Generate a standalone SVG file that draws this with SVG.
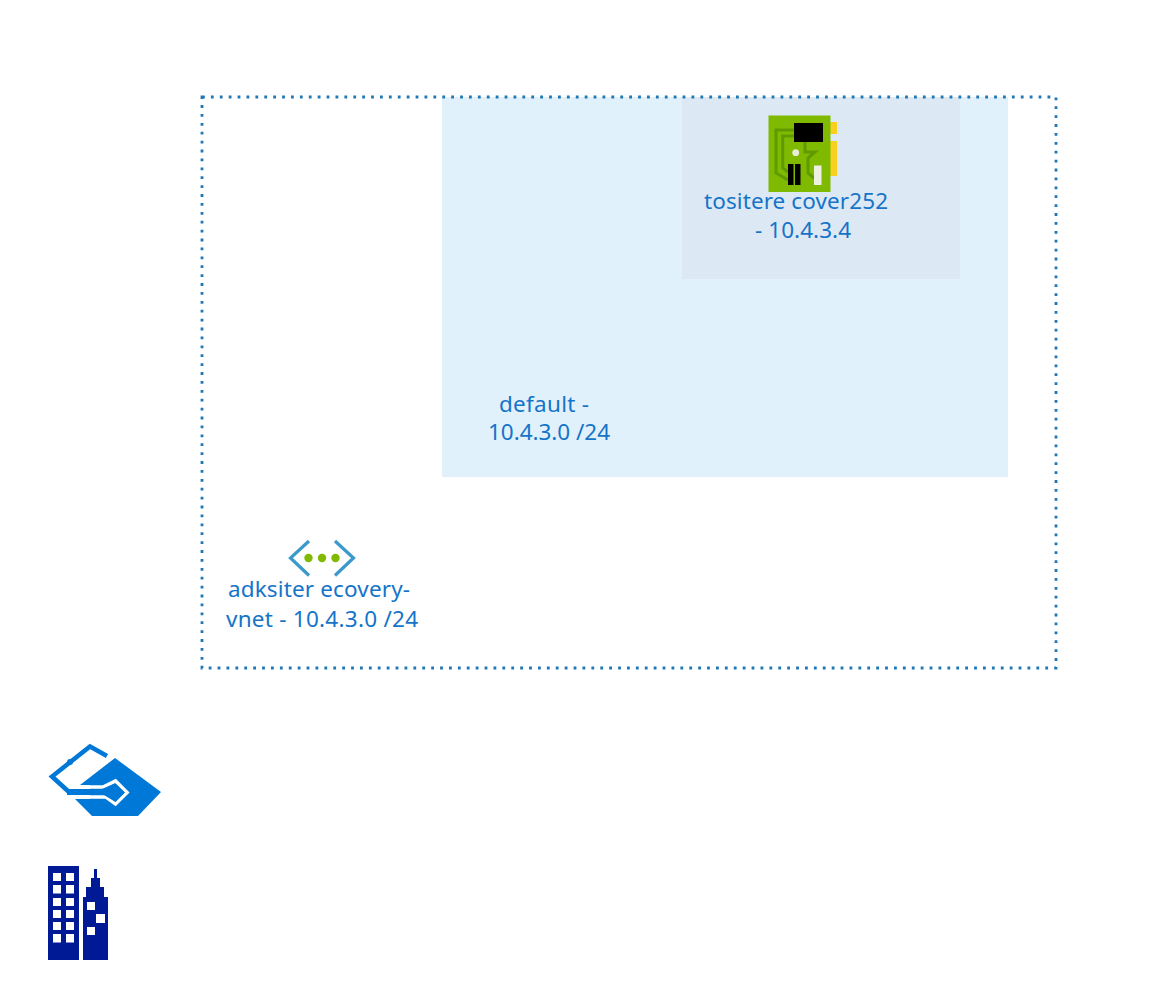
<svg xmlns="http://www.w3.org/2000/svg" width="1152" height="1008" viewBox="0 0 1152 1008">
<style>
text{font-family:"Noto Sans","Open Sans","Liberation Sans",sans-serif;font-size:22.5px;fill:#1574c8;text-anchor:start}
.frame{fill:none;stroke:#1f77b4;stroke-width:2.8;stroke-dasharray:2.8 6.1}
.trace{fill:none;stroke:#5e9a00;stroke-width:3}
.navy{fill:#001a96}
.win{fill:#fff}
.azure{fill:#0078d7}
</style>
<rect width="1152" height="1008" fill="#fff"/>
<g id="subnet-default">
<rect x="442" y="97" width="566" height="380" fill="#e1f1fb"/>
<text x="499" y="412" textLength="90" lengthAdjust="spacing">default -</text>
<text x="488" y="440" textLength="122" lengthAdjust="spacing">10.4.3.0 /24</text>
</g>
<g id="nic-box">
<rect x="682" y="97" width="278" height="182" fill="#dde8f5"/>
</g>
<g id="vnet-frame"><rect class="frame" x="202" y="97" width="854" height="571"/></g>
<g id="nic">
<rect x="830" y="122" width="7" height="12" fill="#f8d120"/>
<rect x="830" y="141" width="7" height="35" fill="#f8d120"/>
<rect x="768.500" y="115.500" width="62" height="76.500" fill="#7fba00"/>
<path class="trace" d="M794 130H776V173L788 180M794 136H782.700V168L788 172M805 142V152H815L808 158V173L814 178"/>
<rect x="794" y="123" width="29" height="19" fill="#000"/>
<circle cx="795.700" cy="152.700" r="3.400" fill="#e8ecd8"/>
<rect x="788" y="164" width="5.500" height="21" fill="#000"/>
<rect x="795" y="164" width="5.500" height="21" fill="#000"/>
<rect x="814" y="165.500" width="7.500" height="19.500" fill="#eef0e4"/>
<text x="704" y="209" textLength="184" lengthAdjust="spacing">tositere cover252</text>
<text x="755" y="238" textLength="96" lengthAdjust="spacing">- 10.4.3.4</text>
</g>
<g id="vnet-label">
<path d="M309 541L290.500 558L309 575.500M335 541L353.500 558L335 575.500" fill="none" stroke="#3b99cb" stroke-width="3.200"/>
<circle cx="308.500" cy="558" r="4.200" fill="#7fba00"/>
<circle cx="322" cy="558" r="4.200" fill="#7fba00"/>
<circle cx="335.500" cy="558" r="4.200" fill="#7fba00"/>
<text x="228" y="597" textLength="182" lengthAdjust="spacing">adksiter ecovery-</text>
<text x="226" y="627" textLength="192" lengthAdjust="spacing">vnet - 10.4.3.0 /24</text>
</g>
<g id="cloud-gateway">
<path class="azure" d="M115 758L161 792L138 816H92L75 799H90V785H80Z"/>
<path d="M107 756L90 746.500L52 776.500L69 792" fill="none" stroke="#0078d7" stroke-width="4.500"/>
<circle cx="70" cy="762" r="3" fill="#0078d7"/>
<path d="M78 787H103L115.500 781L127 792.500L115.500 804L106 797H73" fill="none" stroke="#fff" stroke-width="3.600"/>
<path d="M67 792H106" fill="none" stroke="#0078d7" stroke-width="6"/>
<path class="azure" d="M102 789L115.500 783.500L125 792.500L115.500 802L104 795H102Z"/>
</g>
<g id="on-premises">
<rect class="navy" x="48" y="866" width="31" height="94"/>
<path class="navy" d="M83 960V897H86V887H91V878H94V869H97V878H100V887H104V897H108V960Z"/>
<g class="win">
<rect x="53" y="873" width="8" height="8"/><rect x="66" y="873" width="8" height="8"/>
<rect x="53" y="885" width="8" height="8.500"/><rect x="66" y="885" width="8" height="8.500"/>
<rect x="53" y="898" width="8" height="8"/><rect x="66" y="898" width="8" height="8"/>
<rect x="53" y="910" width="8" height="8"/><rect x="66" y="910" width="8" height="8"/>
<rect x="53" y="922" width="8" height="8"/><rect x="66" y="922" width="8" height="8"/>
<rect x="53" y="934" width="8" height="8.500"/><rect x="66" y="934" width="8" height="8.500"/>
<rect x="87" y="902" width="8" height="8"/><rect x="96" y="914" width="9" height="9"/><rect x="87" y="927" width="8" height="8"/>
</g>
</g>
<g id="connectors"></g>
</svg>
